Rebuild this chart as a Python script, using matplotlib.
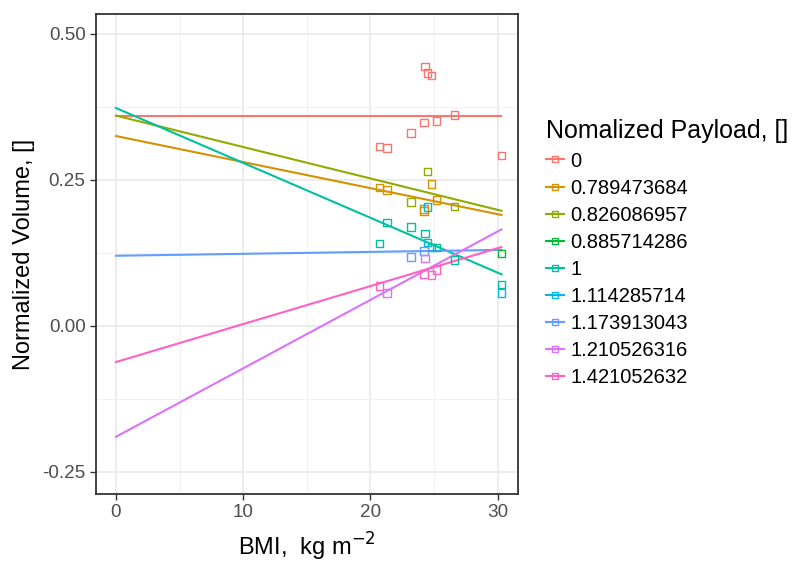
import numpy as np
import matplotlib.pyplot as plt
from matplotlib.lines import Line2D

plt.rcParams['font.family'] = ['Liberation Sans', 'DejaVu Sans']

# groups (normalized payload) and their colours
groups = ['0', '0.789473684', '0.826086957', '0.885714286', '1',
          '1.114285714', '1.173913043', '1.210526316', '1.421052632']
colors = ['#F8766D', '#D39200', '#93AA00', '#00BA38', '#00C19F',
          '#00B9E3', '#619CFF', '#DB72FB', '#FF61C3']

# scatter points per group: BMI, normalized volume
bmi = {
    '0': [24.3, 24.5, 24.8, 26.6, 25.2, 24.2, 23.2, 20.7, 21.3, 30.3],
    '0.789473684': [20.7, 21.3, 24.8, 25.2, 24.2, 24.2],
    '0.826086957': [24.5, 23.2, 26.6],
    '0.885714286': [30.3],
    '1': [20.7, 21.3, 23.2, 24.3, 24.8, 25.2, 26.6, 30.3],
    '1.114285714': [24.5, 24.5, 30.3],
    '1.173913043': [23.2, 24.2],
    '1.210526316': [24.3, 24.8, 21.3],
    '1.421052632': [20.7, 24.2, 25.2],
}
vol = {
    '0': [0.444, 0.433, 0.429, 0.361, 0.351, 0.348, 0.330, 0.307, 0.305, 0.292],
    '0.789473684': [0.237, 0.233, 0.243, 0.215, 0.197, 0.200],
    '0.826086957': [0.264, 0.212, 0.204],
    '0.885714286': [0.124],
    '1': [0.141, 0.177, 0.169, 0.158, 0.134, 0.134, 0.113, 0.071],
    '1.114285714': [0.203, 0.143, 0.056],
    '1.173913043': [0.118, 0.128],
    '1.210526316': [0.115, 0.087, 0.056],
    '1.421052632': [0.068, 0.089, 0.096],
}

# linear fits (intercept, slope); None = no line drawn
fits = {
    '0': (0.360, 0.0),
    '0.789473684': (0.325, -0.00446),
    '0.826086957': (0.360, -0.00538),
    '0.885714286': None,
    '1': (0.373, -0.0094),
    '1.114285714': None,
    '1.173913043': (0.120, 0.00033),
    '1.210526316': (-0.190, 0.01172),
    '1.421052632': (-0.062, 0.0065),
}
x_end = 30.3

fig = plt.figure(figsize=(7.94, 5.62), dpi=100)
ax = fig.add_axes([0.1209, 0.121, 0.5315, 0.8541])

xs = np.array([0, x_end])
for g, c in zip(groups, colors):
    ax.scatter(bmi[g], vol[g], marker='s', s=30, facecolors='none',
               edgecolors=c, linewidths=1.0, zorder=3)
    if fits[g] is not None:
        b0, b1 = fits[g]
        ax.plot(xs, b0 + b1 * xs, color=c, lw=1.5, zorder=2)

ax.set_xlim(-1.57, 31.6)
ax.set_ylim(-0.288, 0.534)
ax.set_xticks([0, 10, 20, 30])
ax.set_yticks([-0.25, 0, 0.25, 0.5])
ax.set_yticklabels(['-0.25', '0.00', '0.25', '0.50'])
ax.set_xticks([5, 15, 25], minor=True)
ax.set_yticks([-0.125, 0.125, 0.375], minor=True)
ax.grid(True, which='major', color='#EBEBEB', lw=1.3)
ax.grid(True, which='minor', color='#F2F2F2', lw=0.7)
ax.set_axisbelow(True)
ax.tick_params(which='major', direction='out', length=4, width=1,
               color='#333333', labelcolor='#4D4D4D', labelsize=13.6)
ax.tick_params(which='minor', length=0)
for s in ax.spines.values():
    s.set_color('#333333')
    s.set_linewidth(1.3)

ax.set_xlabel('BMI,  kg m$^{-2}$', fontsize=17, labelpad=7)
ax.set_ylabel('Normalized Volume, []', fontsize=17, labelpad=5)

handles = [Line2D([0], [0], color=c, lw=1.5, marker='s', markersize=4.5,
                  markerfacecolor='none', markeredgewidth=1.0) for c in colors]
leg = ax.legend(handles, groups, title='Nomalized Payload, []',
                loc='upper left', bbox_to_anchor=(1.047, 0.797), frameon=False,
                fontsize=14.5, title_fontsize=18, handlelength=0.9,
                handletextpad=0.3, labelspacing=0.4, borderaxespad=0)
leg._legend_box.align = 'left'

fig.savefig('out.png', dpi=100)
